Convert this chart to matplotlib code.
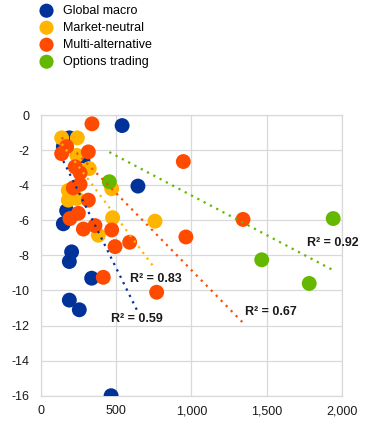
import numpy as np
import matplotlib
matplotlib.use('Agg')
import matplotlib.pyplot as plt

plt.rcParams['font.family'] = ['Liberation Sans', 'DejaVu Sans']
plt.rcParams['axes.unicode_minus'] = False

# data (x: size, y: return)
gm_x = [540, 645, 205, 190, 338, 190, 256, 467, 150, 190, 280, 172, 150]
gm_y = [-0.6, -4.05, -7.8, -8.35, -9.3, -10.55, -11.1, -16.0, -1.8, -1.3, -2.6, -5.45, -6.2]

mn_x = [139, 243, 240, 322, 272, 183, 183, 239, 471, 477, 758, 382]
mn_y = [-1.3, -1.3, -2.3, -3.05, -3.15, -4.3, -4.85, -4.75, -4.2, -5.85, -6.05, -6.85]

ma_x = [340, 172, 139, 316, 228, 261, 216, 261, 316, 194, 250, 283, 360, 471, 493, 590, 415, 769, 946, 963, 1342]
ma_y = [-0.5, -1.8, -2.2, -2.1, -2.95, -3.3, -4.15, -3.95, -4.85, -5.9, -5.6, -6.5, -6.3, -6.55, -7.5, -7.25, -9.25, -10.1, -2.65, -6.95, -5.95]

ot_x = [455, 1940, 1466, 1781]
ot_y = [-3.8, -5.9, -8.25, -9.6]

trend_slope = [-0.0174, -0.01148, -0.00878, -0.004536]
trend_icpt = [-0.01, -0.047, -0.061, -0.046]
r2_text = ['R² = 0.59', 'R² = 0.83', 'R² = 0.67', 'R² = 0.92']
r2_pos = [(466, -11.6), (593, -9.37), (1355, -11.2), (1766, -7.31)]

names = ['Global macro', 'Market-neutral', 'Multi-alternative', 'Options trading']
colors = ['#003299', '#FFB400', '#FF4B00', '#65B800']
xs = [gm_x, mn_x, ma_x, ot_x]
ys = [gm_y, mn_y, ma_y, ot_y]

xticks = [0, 500, 1000, 1500, 2000]
xlabels = ['0', '500', '1,000', '1,500', '2,000']
yticks = [0, -2, -4, -6, -8, -10, -12, -14, -16]

fig = plt.figure(figsize=(3.72, 4.23), dpi=100)
ax = fig.add_axes([0.1094, 0.0645, 0.8106, 0.6635])

handles = []
for i in range(4):
    h = ax.scatter(xs[i], ys[i], s=115, color=colors[i], edgecolors='none', zorder=3, label=names[i])
    handles.append(h)

for i in range(4):
    xx = np.array([min(xs[i]), max(xs[i])])
    ax.plot(xx, trend_slope[i]*xx + trend_icpt[i], color=colors[i], lw=1.6,
            linestyle=(0, (1, 2.2)), zorder=4)
    ax.text(r2_pos[i][0], r2_pos[i][1], r2_text[i], fontsize=9, fontweight='bold',
            ha='left', va='center', color='#1a1a1a', zorder=5)

ax.set_xlim(0, 2000)
ax.set_ylim(-16, 0)
ax.set_xticks(xticks)
ax.set_xticklabels(xlabels)
ax.set_yticks(yticks)
ax.grid(True, color='#D9D9D9', lw=0.9, zorder=0)
ax.set_axisbelow(True)
for sp in ax.spines.values():
    sp.set_color('#D9D9D9')
    sp.set_linewidth(0.9)
ax.tick_params(length=0, labelsize=9, colors='#1a1a1a')
ax.tick_params(axis='x', pad=7)
ax.tick_params(axis='y', pad=8)

fig.legend(handles=handles, loc='upper left', bbox_to_anchor=(0.078, 1.0), frameon=False,
           fontsize=9, handletextpad=0.35, labelspacing=0.4, borderaxespad=0,
           scatterpoints=1, markerscale=0.95)

fig.savefig('out.png', dpi=100)
